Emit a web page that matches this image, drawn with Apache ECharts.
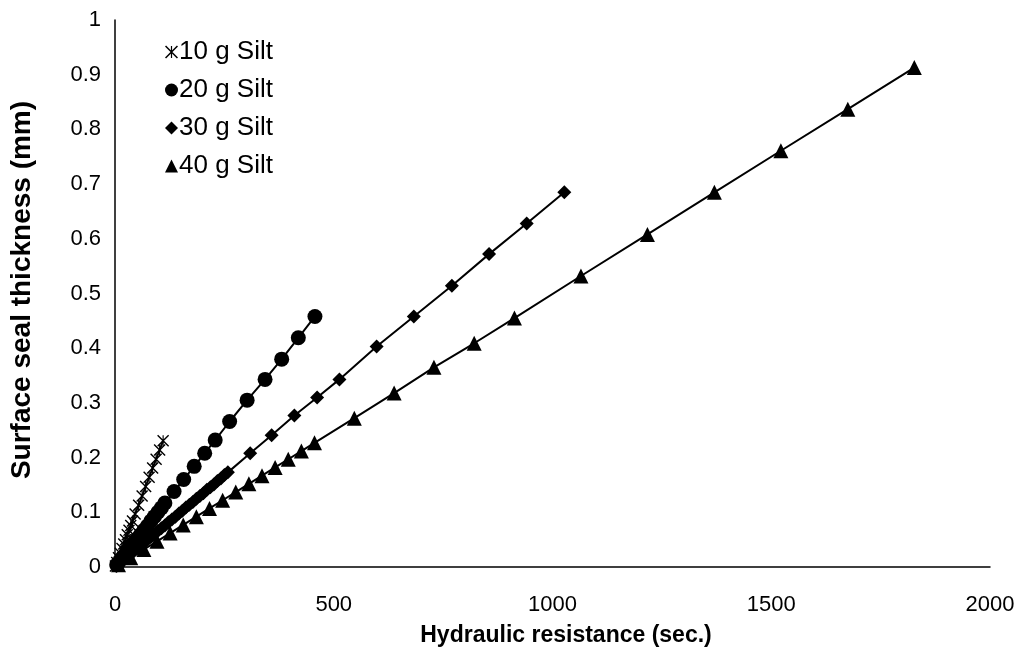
<!DOCTYPE html>
<html>
<head>
<meta charset="utf-8">
<script src="https://cdn.jsdelivr.net/npm/echarts@6/dist/echarts.min.js"></script>
<style>
html,body{margin:0;padding:0;background:#fff;}
#c{width:1028px;height:660px;}
</style>
</head>
<body>
<div id="c"></div>
<script>
// ---- data ----
const seriesNames = ['10 g Silt', '20 g Silt', '30 g Silt', '40 g Silt'];

const x10 = [110, 102, 94, 86, 78, 70, 62, 54, 46, 40, 36, 32, 28, 24, 20, 16, 12, 8, 4, 1];
const y10 = [0.231, 0.214, 0.197, 0.181, 0.164, 0.147, 0.130, 0.113, 0.097, 0.084, 0.076, 0.067, 0.059, 0.050, 0.042, 0.034, 0.025, 0.017, 0.008, 0.002];

const x20 = [457, 419, 381, 343, 302, 262, 229, 205, 181, 157, 135, 114, 106, 98, 90, 82, 74, 66, 58, 50, 42, 34, 26, 18, 10, 4];
const y20 = [0.458, 0.419, 0.380, 0.343, 0.305, 0.266, 0.232, 0.208, 0.184, 0.160, 0.138, 0.117, 0.108, 0.100, 0.092, 0.084, 0.075, 0.067, 0.059, 0.051, 0.043, 0.035, 0.027, 0.018, 0.010, 0.004];

const x30 = [1027, 941, 855, 770, 683, 598, 513, 462, 410, 358, 309, 258, 250, 242, 234, 226, 218, 210, 202, 194, 186, 178, 170, 162, 154, 146, 138, 130, 122, 114, 106, 98, 90, 82, 74, 66, 58, 50, 42, 34, 26, 18, 10, 3];
const y30 = [0.685, 0.628, 0.572, 0.514, 0.458, 0.403, 0.343, 0.310, 0.277, 0.241, 0.208, 0.173, 0.168, 0.162, 0.157, 0.151, 0.146, 0.141, 0.135, 0.130, 0.125, 0.119, 0.114, 0.109, 0.103, 0.098, 0.092, 0.087, 0.082, 0.076, 0.071, 0.066, 0.060, 0.055, 0.050, 0.044, 0.039, 0.034, 0.028, 0.023, 0.017, 0.012, 0.007, 0.002];

const x40 = [1827, 1675, 1522, 1370, 1217, 1065, 913, 821, 729, 638, 547, 456, 426, 396, 366, 336, 306, 276, 246, 216, 186, 156, 126, 96, 66, 36, 8];
const y40 = [0.913, 0.837, 0.761, 0.685, 0.608, 0.532, 0.455, 0.409, 0.365, 0.318, 0.272, 0.227, 0.212, 0.197, 0.182, 0.167, 0.152, 0.137, 0.122, 0.107, 0.092, 0.077, 0.062, 0.047, 0.032, 0.017, 0.004];

const xTicks = [0, 500, 1000, 1500, 2000];
const yTicks = [0, 0.1, 0.2, 0.3, 0.4, 0.5, 0.6, 0.7, 0.8, 0.9, 1];

const xTitle = 'Hydraulic resistance (sec.)';
const yTitle = 'Surface seal thickness (mm)';

// ---- chart ----
const FONT = '"Liberation Sans", Arial, sans-serif';
const star = 'path://M9,0 L11,0 L11,20 L9,20 Z M0.9,-0.9 L20.9,19.1 L19.1,20.9 L-0.9,0.9 Z M20.9,0.9 L0.9,20.9 L-0.9,19.1 L19.1,-0.9 Z';

function pairs(xs, ys) { return xs.map((v, i) => [v, ys[i]]); }

const symbols = [star, 'circle', 'diamond', 'triangle'];
const sizes = [12, 15, 14, 15];
const datasets = [pairs(x10, y10), pairs(x20, y20), pairs(x30, y30), pairs(x40, y40)];

const chart = echarts.init(document.getElementById('c'));
chart.setOption({
  animation: false,
  backgroundColor: '#fff',
  grid: { left: 115, right: 38, top: 20, bottom: 93, containLabel: false },
  xAxis: {
    type: 'value',
    min: xTicks[0], max: xTicks[xTicks.length - 1], interval: xTicks[1] - xTicks[0],
    axisLine: { show: true, lineStyle: { color: '#000', width: 1.5 } },
    axisTick: { show: false },
    splitLine: { show: false },
    axisLabel: { color: '#000', fontFamily: FONT, fontSize: 22, margin: 27,
      formatter: v => String(v) }
  },
  yAxis: {
    type: 'value',
    min: yTicks[0], max: yTicks[yTicks.length - 1], interval: 0.1,
    axisLine: { show: true, lineStyle: { color: '#000', width: 1.5 } },
    axisTick: { show: false },
    splitLine: { show: false },
    axisLabel: { color: '#000', fontFamily: FONT, fontSize: 22, margin: 14,
      formatter: v => String(Math.round(v * 10) / 10) }
  },
  legend: {
    orient: 'vertical',
    left: 160, top: 34,
    itemWidth: 13, itemHeight: 13, itemGap: 12,
    textStyle: { color: '#000', fontFamily: FONT, fontSize: 26, lineHeight: 26, padding: [0, 0, 0, -4] },
    data: seriesNames.map((n, i) => ({ name: n, icon: symbols[i] }))
  },
  graphic: [
    { type: 'text', x: 566, y: 636, style: { text: xTitle, font: 'bold 23px ' + FONT, fill: '#000', textAlign: 'center', textVerticalAlign: 'middle' } },
    { type: 'text', x: 22, y: 290, rotation: Math.PI / 2, style: { text: yTitle, font: 'bold 28px ' + FONT, fill: '#000', textAlign: 'center', textVerticalAlign: 'middle' } }
  ],
  series: datasets.map((d, i) => ({
    name: seriesNames[i],
    type: 'line',
    data: d,
    symbol: symbols[i],
    symbolSize: sizes[i],
    showAllSymbol: true,
    lineStyle: { color: '#000', width: 2 },
    itemStyle: { color: '#000' },
    z: 2 + i
  }))
});
</script>
</body>
</html>
